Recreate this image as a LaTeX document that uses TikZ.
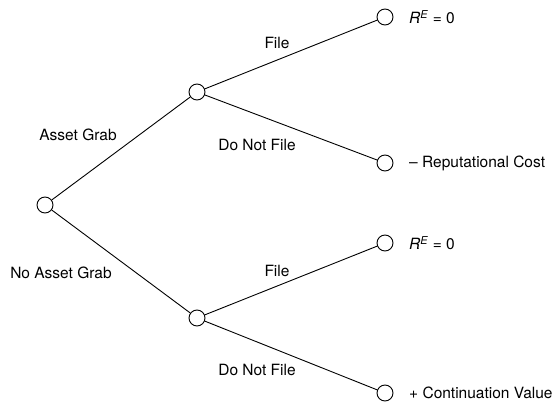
\documentclass[tikz,border=0pt]{standalone}
\usepackage{fontspec}
\setmainfont{TeX Gyre Heros}
\begin{document}
\begin{tikzpicture}[x=1pt,y=-1pt,
  dnode/.style={circle,draw,line width=0.9pt,minimum size=16pt,inner sep=0pt},
  edge/.style={line width=0.9pt},
  lab/.style={font=\fontsize{15.5}{18}\selectfont,inner sep=0pt},
  pay/.style={font=\fontsize{15.5}{18}\selectfont,inner sep=0pt,anchor=west}]
\useasboundingbox (0,0) rectangle (555,403);
\node[dnode] (root) at (45,205) {};
\node[dnode] (up) at (197,92) {};
\node[dnode] (lo) at (197,318) {};
\node[dnode] (l1) at (385,17) {};
\node[dnode] (l2) at (385,163) {};
\node[dnode] (l3) at (385,243) {};
\node[dnode] (l4) at (385,393) {};
\draw[edge] (root) -- (up);
\draw[edge] (root) -- (lo);
\draw[edge] (up) -- (l1);
\draw[edge] (up) -- (l2);
\draw[edge] (lo) -- (l3);
\draw[edge] (lo) -- (l4);
\node[lab] (tAG) at (78,135) {Asset Grab};
\node[lab] (tNAG) at (61,273) {No Asset Grab};
\node[lab] (tF1) at (277,43) {File};
\node[lab] (tD1) at (257,145) {Do Not File};
\node[lab] (tF2) at (277,271) {File};
\node[lab] (tD2) at (257,370) {Do Not File};
\node[pay] (p1) at (409,17) {\textit{R}\textsuperscript{\textit{E}} = 0};
\node[pay] (p2) at (409,163) {– Reputational Cost};
\node[pay] (p3) at (409,243) {\textit{R}\textsuperscript{\textit{E}} = 0};
\node[pay] (p4) at (409,393) {+ Continuation Value};
\end{tikzpicture}
\end{document}
